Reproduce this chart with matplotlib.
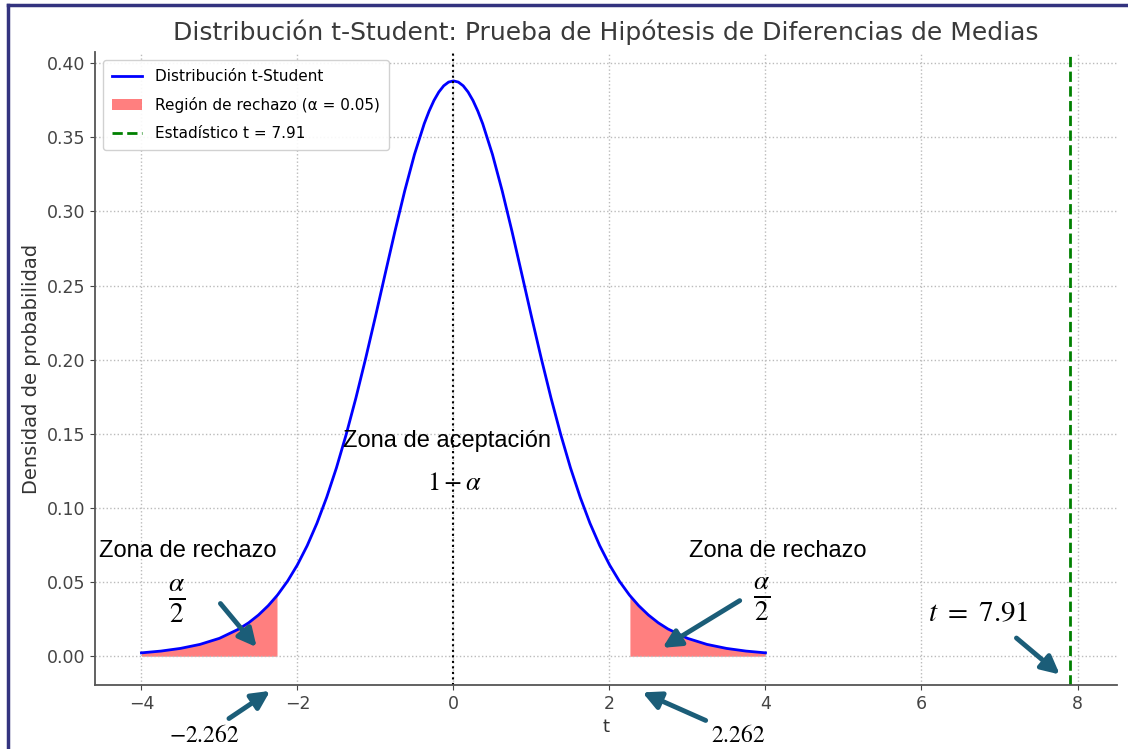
import matplotlib
matplotlib.use("Agg")
import matplotlib.pyplot as plt
from matplotlib.lines import Line2D

plt.rcParams['mathtext.fontset'] = 'stix'

# valores (t-Student, gl = 9)
t_vals = [-4.0, -3.75, -3.5, -3.25, -3.0, -2.75, -2.625, -2.5, -2.375, -2.262, -2.25,
          -2.125, -2.0, -1.875, -1.75, -1.625, -1.5, -1.375, -1.25, -1.125, -1.0,
          -0.875, -0.75, -0.625, -0.5, -0.375, -0.3125, -0.25, -0.1875, -0.125,
          -0.0625, 0.0, 0.0625, 0.125, 0.1875, 0.25, 0.3125, 0.375, 0.5, 0.625,
          0.75, 0.875, 1.0, 1.125, 1.25, 1.375, 1.5, 1.625, 1.75, 1.875, 2.0,
          2.125, 2.25, 2.262, 2.375, 2.5, 2.625, 2.75, 3.0, 3.25, 3.5, 3.75, 4.0]
density = [0.0023, 0.0035, 0.0053, 0.0080, 0.0121, 0.0184, 0.0226, 0.0278, 0.0341,
           0.0409, 0.0417, 0.0508, 0.0617, 0.0746, 0.0897, 0.1072, 0.1271, 0.1496,
           0.1743, 0.2010, 0.2291, 0.2580, 0.2866, 0.3138, 0.3384, 0.3591, 0.3676,
           0.3748, 0.3805, 0.3847, 0.3872, 0.3880, 0.3872, 0.3847, 0.3805, 0.3748,
           0.3676, 0.3591, 0.3384, 0.3138, 0.2866, 0.2580, 0.2291, 0.2010, 0.1743,
           0.1496, 0.1271, 0.1072, 0.0897, 0.0746, 0.0617, 0.0508, 0.0417, 0.0409,
           0.0341, 0.0278, 0.0226, 0.0184, 0.0121, 0.0080, 0.0053, 0.0035, 0.0023]
t_crit = 2.262
t_stat = 7.91
alpha = 0.05

fig = plt.figure(figsize=(11.28, 7.49), dpi=100)
ax = fig.add_axes([0.0842, 0.0854, 0.906, 0.845])

ax.plot(t_vals, density, color='blue', lw=2, label='Distribución t-Student')
left_tail = [t <= -t_crit for t in t_vals]
right_tail = [t >= t_crit for t in t_vals]
ax.fill_between(t_vals, density, where=left_tail, color='red', alpha=0.5, lw=0,
                label=f'Región de rechazo (α = {alpha})')
ax.fill_between(t_vals, density, where=right_tail, color='red', alpha=0.5, lw=0)
ax.axvline(t_stat, color='green', ls='--', lw=2, label=f'Estadístico t = {t_stat}')
ax.axvline(0, color='black', ls=':', lw=1.5)

ax.set_title('Distribución t-Student: Prueba de Hipótesis de Diferencias de Medias',
             fontsize=18, color='#3a3a3a', pad=9)
ax.set_xlabel('t', fontsize=13, color='#333333')
ax.set_ylabel('Densidad de probabilidad', fontsize=14, color='#333333')
ax.tick_params(labelsize=12.5, colors='#444444')
ax.grid(True, ls=':', color='#bbbbbb', lw=1)
for s in ['top', 'right']:
    ax.spines[s].set_visible(False)
for s in ['left', 'bottom']:
    ax.spines[s].set_color('#555555')
    ax.spines[s].set_linewidth(1.3)

leg = ax.legend(loc='upper left', fontsize=11, framealpha=0.9, labelspacing=0.85,
                borderpad=0.6)
leg.get_frame().set_edgecolor('#cccccc')

# anotaciones
arrow_c = '#1b5d78'
aprops = dict(arrowstyle='-|>', color=arrow_c, lw=3.5, mutation_scale=27)
sans = 'Liberation Sans'
ax.text(-3.40, 0.071, 'Zona de rechazo', fontsize=17, family=sans, ha='center', va='center')
ax.text(4.16, 0.071, 'Zona de rechazo', fontsize=17, family=sans, ha='center', va='center')
ax.text(-0.08, 0.145, 'Zona de aceptación', fontsize=17, family=sans, ha='center', va='center')
ax.text(0.02, 0.117, r'$1 - \alpha$', fontsize=19, ha='center', va='center')
ax.text(-3.55, 0.037, r'$\frac{\alpha}{2}$', fontsize=28, ha='center', va='center')
ax.text(3.95, 0.0385, r'$\frac{\alpha}{2}$', fontsize=28, ha='center', va='center')
ax.text(6.73, 0.029, r'$t\ =\ 7.91$', fontsize=21, ha='center', va='center')

ax.annotate('', xy=(-2.50, 0.0047), xytext=(-3.01, 0.037), arrowprops=aprops)
ax.annotate('', xy=(2.65, 0.0047), xytext=(3.70, 0.0385), arrowprops=aprops)
ax.annotate('', xy=(7.80, -0.0135), xytext=(7.19, 0.0135), arrowprops=aprops,
            annotation_clip=False)
ax.annotate(r'$-2.262$', xy=(-2.32, -0.0223), xytext=(-3.19, -0.053),
            fontsize=17, ha='center', va='center', arrowprops=aprops,
            annotation_clip=False)
ax.annotate(r'$2.262$', xy=(2.39, -0.0236), xytext=(3.65, -0.053),
            fontsize=17, ha='center', va='center', arrowprops=aprops,
            annotation_clip=False)

# borde del recorte
fig.add_artist(Line2D([0.007, 0.007], [0, 0.993], transform=fig.transFigure,
                      color='#33337f', lw=2.5))
fig.add_artist(Line2D([0.007, 1.0], [0.993, 0.993], transform=fig.transFigure,
                      color='#33337f', lw=2.5))

fig.savefig('out.png', dpi=100)
